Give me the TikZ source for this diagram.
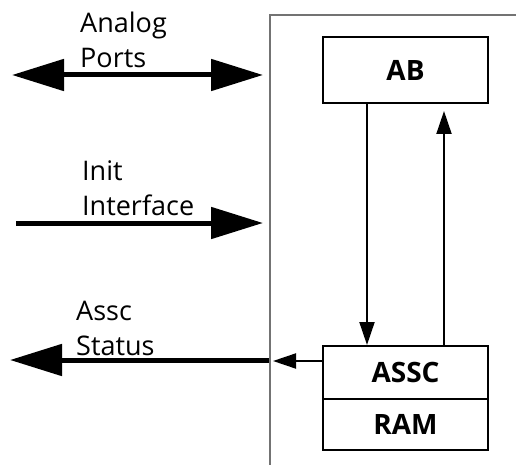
\documentclass[tikz,border=0pt]{standalone}
\usepackage{fontspec}
\setmainfont{Open Sans}
\usetikzlibrary{arrows.meta,positioning}

\begin{document}
\begin{tikzpicture}[
	x=1pt,y=-1pt,
	font=\fontsize{27}{35}\selectfont,
	big/.tip={Triangle[length=52pt,width=31pt]},
	small/.tip={Triangle[length=23pt,width=15pt]},
	blk/.style={
		draw,
		rectangle,
		line width=2pt,
		minimum width=165pt,
		inner sep=0pt,
		font=\fontsize{28}{35}\selectfont\bfseries
	},
	lbl/.style={
		anchor=base west,
		align=left,
		inner sep=0pt
	},
	bus/.style={line width=5pt},
	sig/.style={line width=2pt,-small}
	]
	\useasboundingbox (0,0) rectangle (516,465);
	% chip outline
	\draw[black!55,line width=2.5pt] (270,470) -- (270,15) -- (520,15);
	
	\node[blk,minimum height=66pt] (ab) at (405.5,70) {AB};
	\node[blk,minimum height=53pt] (assc) at (405.5,372.5) {ASSC};
	\node[blk,minimum height=51pt,below=-2pt of assc] (ram) {RAM};
	
	\draw[sig] ([xshift=-38.5pt]ab.south) -- ([xshift=-38.5pt]assc.north);
	\draw[sig,shorten >=7pt] ([xshift=38.5pt]assc.north) -- ([xshift=38.5pt]ab.south);
	
	\coordinate (apL) at (12,75);
	\coordinate (apR) at (263,75);
	\coordinate (iiL) at (16,223);
	\coordinate (iiR) at (263,223);
	\coordinate (asL) at (10,360);
	\coordinate (asR) at (269,360);
	\coordinate (asW) at (273,361);
	
	\draw[bus,big-big] (apL) -- (apR);
	\draw[bus,-big] (iiL) -- (iiR);
	\draw[bus,-big] (asR) -- (asL);
	\draw[sig] (assc.west |- asW) -- (asW);
	
	% labels: anchored at the baseline of the second line
	\node[lbl] (analog) at (80,68) {Analog\\Ports};
	\node[lbl] (init) at (82,215) {Init\\Interface};
	\node[lbl] (status) at (76,355) {Assc\\Status};
\end{tikzpicture}
\end{document}
